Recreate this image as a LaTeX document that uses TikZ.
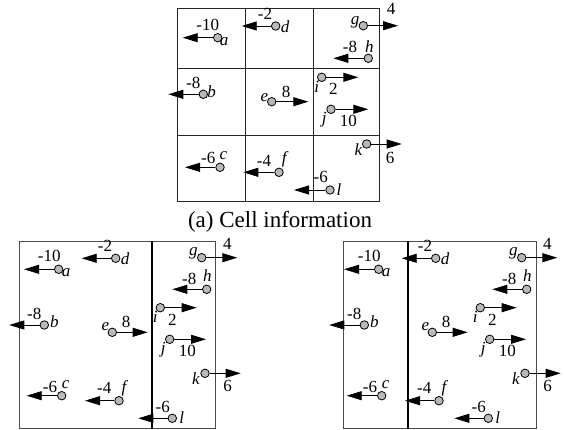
\documentclass[tikz,border=0pt]{standalone}
\usepackage{fontspec}
\setmainfont{Liberation Serif}
\usetikzlibrary{arrows.meta}
\tikzset{
  dot/.style={circle,draw=black,fill=gray!55,line width=0.8pt,inner sep=0pt,minimum size=8.5pt},
  vec/.style={line width=0.9pt,-{Triangle[length=15pt,width=9pt]}},
  lbl/.style={inner sep=0pt,font=\fontsize{17}{17}\selectfont},
  letter/.style={inner sep=0pt,font=\fontsize{17}{17}\selectfont\itshape},
  cellline/.style={line width=0.9pt,black!85},
  frame/.style={line width=0.9pt,black!70},
  split/.style={line width=1.4pt,black},
  caption/.style={inner sep=0pt,font=\fontsize{23}{23}\selectfont},
}
% #1 name, #2 circle, #3 tip, #4 letter, #5 letter pos, #6 value, #7 value pos
\newcommand\vpoint[7]{%
  \node[dot] (#1) at (#2) {};
  \coordinate (#1-tip) at (#3);
  \draw[vec] (#1) -- (#1-tip);
  \node[letter] (#1-name) at (#5) {#4};
  \node[lbl] (#1-val) at (#7) {#6};
}
% bottom panel points; #1 prefix, #2 extra x shift of l
\newcommand\bottompoints[2]{%
  \vpoint{#1a}{58.7,269.3}{24,269.3}{a}{66,272.3}{-10}{49.3,256}
  \vpoint{#1d}{115.7,258.3}{81.7,258.3}{d}{125,258.3}{-2}{105,246}
  \vpoint{#1g}{201.7,257.7}{237.3,257.7}{g}{193.3,253.3}{4}{227.3,244}
  \vpoint{#1h}{206.7,289.3}{172.3,289.3}{h}{207.3,276}{-8}{189.3,279.3}
  \vpoint{#1b}{44.3,325}{9.3,325}{b}{54.3,321.7}{-8}{34.3,314.3}
  \vpoint{#1e}{112.3,332.3}{147.7,332.3}{e}{105.3,326.7}{8}{126,321.7}
  \vpoint{#1i}{160.3,307.7}{196.7,307.7}{i}{155.3,316.7}{2}{172.3,320}
  \vpoint{#1j}{169.7,339.3}{206,339.3}{j}{163.3,350}{10}{187.3,350.7}
  \vpoint{#1k}{205,373.3}{240.7,373.3}{k}{196,379}{6}{227.7,386}
  \vpoint{#1c}{61.7,395.7}{26.7,395.7}{c}{65.7,384.3}{-6}{50,386.7}
  \vpoint{#1f}{119,400.7}{85,400.7}{f}{124,388.3}{-4}{104.3,388.3}
  \vpoint{#1l}{{172.3+#2},418.3}{{138.3+#2},418.3}{l}{{181.7+#2},417.7}{-6}{{162.7+#2},406.7}
}
\begin{document}
\begin{tikzpicture}[x=1pt,y=-1pt]
\useasboundingbox (0,0) rectangle (564,430);
% top grid
\draw[cellline] (177,8) rectangle (379,201);
\draw[cellline] (245,8) -- (245,201) (313,8) -- (313,201);
\draw[cellline] (177,68) -- (379,68) (177,135) -- (379,135);
\vpoint{a}{217.7,37.7}{182.7,37.7}{a}{224,41.7}{-10}{207.7,25}
\vpoint{d}{275.7,26}{241.7,26}{d}{285,27}{-2}{265,14}
\vpoint{g}{363.3,25.7}{398,25.7}{g}{355,22.7}{4}{391,9}
\vpoint{h}{368.3,58.3}{333.3,58.3}{h}{369.3,46.7}{-8}{350,46.7}
\vpoint{b}{203.3,94.3}{168.3,94.3}{b}{211.7,91.7}{-8}{193.3,83.3}
\vpoint{e}{271.7,101.7}{308.3,101.7}{e}{264.3,97.3}{8}{286,91.7}
\vpoint{i}{321.7,77.3}{358.3,77.3}{i}{316.7,87.3}{2}{333.3,89.3}
\vpoint{j}{331,109.3}{368.3,109.3}{j}{324.3,120}{10}{348.3,120.7}
\vpoint{k}{366.7,144}{401.7,144}{k}{358.3,150}{6}{390,158}
\vpoint{c}{220,167.3}{185,167.3}{c}{223.3,156}{-6}{208.3,158.3}
\vpoint{f}{279,172.3}{243.3,172.3}{f}{284.3,159.3}{-4}{264,160.7}
\vpoint{l}{330,190}{294,190}{l}{339,189.3}{-6}{320.7,177.3}
\node[caption] (cap) at (280,222) {(a) Cell information};
% bottom left panel
\draw[frame] (19,241) rectangle (215,428.5);
\draw[split] (152,241) -- (152,428.5);
\bottompoints{L}{0}
% bottom right panel
\draw[frame] (343,241) rectangle (536,428.5);
\draw[split] (408,241) -- (408,428.5);
\begin{scope}[xshift=320pt]
\bottompoints{R}{-4}
\end{scope}
\end{tikzpicture}
\end{document}
